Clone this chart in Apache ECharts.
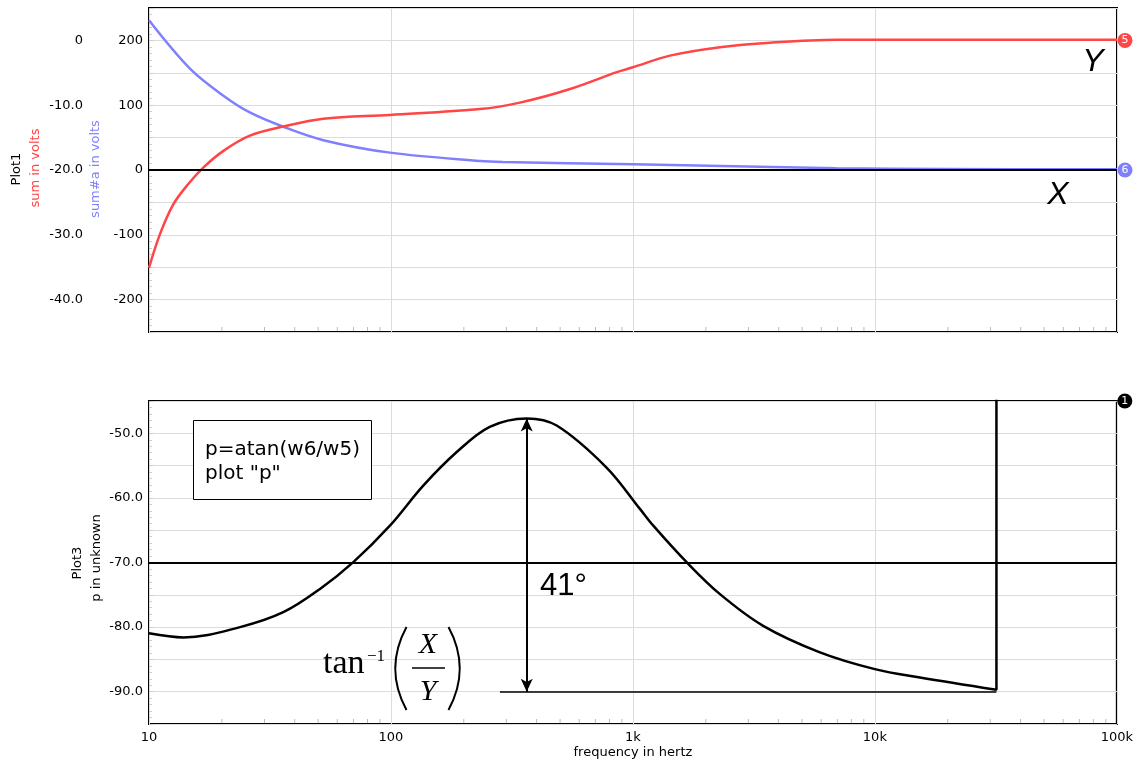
<!DOCTYPE html>
<html>
<head>
<meta charset="utf-8">
<script src="https://cdn.jsdelivr.net/npm/echarts@6/dist/echarts.min.js"></script>
<style>
html,body{margin:0;padding:0;background:#fff;}
#chart{width:1136px;height:763px;}
</style>
</head>
<body>
<div id="chart"></div>
<script>
// ---- data ----
const sumFreq = [10, 11.1, 12.6, 14.5, 16.8, 20.3, 26.1, 35.9, 52.5, 99, 233, 341, 550, 857, 1000, 1422, 2290, 3684, 6950, 20000, 100000];
const sumVolts = [-35.1, -29.9, -25.3, -22.2, -19.6, -17.05, -14.7, -13.3, -12.1, -11.5, -10.6, -9.6, -7.5, -4.9, -4.15, -2.35, -1.05, -0.35, 0.1, 0.1, 0.1];

const sumAFreq = [10, 14.8, 20.3, 26.1, 35.9, 52.5, 99, 233, 290, 1000, 3350, 6950, 20000, 100000];
const sumAVolts = [231, 156, 114.7, 88.8, 66.7, 46, 26.8, 14, 12.4, 8.8, 5.1, 2.6, 1.5, 1];

const pFreq = [10, 13.9, 23.8, 35.9, 50.9, 69.9, 99, 136, 187, 256, 364, 484, 778, 1069, 1214, 1667, 2290, 3454, 5929, 10000, 15350, 31800, 31800, 31800, 100000];
const pValue = [-80.96, -81.6, -80.0, -77.7, -74.1, -69.95, -64.3, -58.1, -52.9, -49.0, -47.7, -48.8, -55.3, -61.7, -64.3, -69.95, -74.9, -79.8, -83.9, -86.5, -87.8, -89.7, -89.7, 90, 90];

const xTickValues = [10, 100, 1000, 10000, 100000];
const xTickLabels = ['10', '100', '1k', '10k', '100k'];
const minorTickFreqs = [20,30,40,50,60,70,80,90,200,300,400,500,600,700,800,900,2000,3000,4000,5000,6000,7000,8000,9000,20000,30000,40000,50000,60000,70000,80000,90000];

const arrowFreq = 364, arrowTop = -47.7, arrowBottom = -90;
const baseLineFrom = 282, baseLineTo = 31800, baseLineValue = -90;

const RED = '#ff4545', BLUE = '#8080ff', GRIDC = '#dcdcdc';
const SANS = '"DejaVu Sans", sans-serif';

function toPairs(xs, ys){ return xs.map((x,i)=>[x, ys[i]]); }

const chart = echarts.init(document.getElementById('chart'), null, {renderer:'canvas'});

function minorTickSeries(xi, yi, yBottom){
  return {
    type:'custom', xAxisIndex:xi, yAxisIndex:yi, silent:true, clip:false, z:3,
    data: minorTickFreqs.map(f=>[f]),
    renderItem:function(params, api){
      const p = api.coord([api.value(0), yBottom]);
      return {type:'line', shape:{x1:p[0], y1:p[1]-1, x2:p[0], y2:p[1]-5}, style:{stroke:'#bbbbbb', lineWidth:1}};
    }
  };
}

const option = {
  animation:false,
  backgroundColor:'#fff',
  grid:[
    {left:149, right:19, top:8, height:324, show:true, borderColor:'#000', borderWidth:2, backgroundColor:'transparent'},
    {left:149, right:19, top:401, height:323, show:true, borderColor:'#000', borderWidth:2, backgroundColor:'transparent'}
  ],
  xAxis:[
    {type:'log', logBase:10, min:10, max:100000, gridIndex:0,
     axisLine:{show:false}, axisTick:{show:false}, axisLabel:{show:false},
     splitLine:{show:true, lineStyle:{color:GRIDC, width:1}}},
    {type:'log', logBase:10, min:10, max:100000, gridIndex:1,
     axisLine:{show:false}, axisTick:{show:false},
     axisLabel:{show:true, margin:7, color:'#000', fontFamily:SANS, fontSize:13,
       formatter:function(v){ const i = xTickValues.findIndex(t=>Math.abs(t-v)/t<1e-6); return i>=0 ? xTickLabels[i] : ''; }},
     splitLine:{show:true, lineStyle:{color:GRIDC, width:1}},
     name:'frequency in hertz', nameLocation:'middle', nameGap:22,
     nameTextStyle:{color:'#000', fontFamily:SANS, fontSize:13}}
  ],
  yAxis:[
    {type:'value', gridIndex:0, min:-250, max:250, interval:50, position:'left',
     axisLine:{show:false},
     axisTick:{show:true, inside:true, length:4, lineStyle:{color:'#cccccc'}},
     minorTick:{show:true, splitNumber:5, length:3, lineStyle:{color:'#cccccc'}},
     axisLabel:{margin:6, color:'#000', fontFamily:SANS, fontSize:13,
       formatter:function(v){ return (Math.round(v)%100===0) ? String(Math.round(v)) : ''; }},
     splitLine:{show:true, lineStyle:{color:GRIDC}}},
    {type:'value', gridIndex:0, min:-45, max:5, interval:5, position:'left', offset:60,
     axisLine:{show:false}, axisTick:{show:false},
     axisLabel:{margin:6, color:'#000', fontFamily:SANS, fontSize:13,
       formatter:function(v){ const r=Math.round(v); if(r%10!==0) return ''; return r===0 ? '0' : r.toFixed(1); }},
     splitLine:{show:false}},
    {type:'value', gridIndex:1, min:-95, max:-45, interval:5, position:'left',
     axisLine:{show:false},
     axisTick:{show:true, inside:true, length:4, lineStyle:{color:'#cccccc'}},
     minorTick:{show:true, splitNumber:5, length:3, lineStyle:{color:'#cccccc'}},
     axisLabel:{margin:6, color:'#000', fontFamily:SANS, fontSize:13,
       formatter:function(v){ const r=Math.round(v); return (r%10===0) ? r.toFixed(1) : ''; }},
     splitLine:{show:true, lineStyle:{color:GRIDC}}}
  ],
  series:[
    minorTickSeries(0, 0, -250),
    minorTickSeries(1, 2, -95),
    {name:'sum#a', type:'line', xAxisIndex:0, yAxisIndex:0, data:toPairs(sumAFreq, sumAVolts),
     smooth:0.35, showSymbol:false, symbol:'none', z:4,
     lineStyle:{color:BLUE, width:2.5},
     markLine:{silent:true, symbol:'none', label:{show:false}, z:5,
       lineStyle:{color:'#000', width:2, type:'solid'}, data:[{yAxis:0}]},
     markPoint:{silent:true, symbol:'circle', symbolSize:15, symbolOffset:[8,0], itemStyle:{color:BLUE},
       label:{show:true, color:'#fff', fontFamily:SANS, fontSize:11, formatter:'6'},
       data:[{coord:[sumAFreq[sumAFreq.length-1], 0]}]}},
    {name:'sum', type:'line', xAxisIndex:0, yAxisIndex:1, data:toPairs(sumFreq, sumVolts),
     smooth:0.35, showSymbol:false, symbol:'none', z:4,
     lineStyle:{color:RED, width:2.5},
     markPoint:{silent:true, symbol:'circle', symbolSize:15, symbolOffset:[8,0], itemStyle:{color:RED},
       label:{show:true, color:'#fff', fontFamily:SANS, fontSize:11, formatter:'5'},
       data:[{coord:[sumFreq[sumFreq.length-1], 0]}]}},
    {name:'p', type:'line', xAxisIndex:1, yAxisIndex:2, data:toPairs(pFreq, pValue),
     smooth:0.35, showSymbol:false, symbol:'none', z:4,
     lineStyle:{color:'#000', width:2.5},
     markLine:{silent:true, symbol:'none', label:{show:false}, z:5,
       lineStyle:{color:'#000', width:2, type:'solid'},
       data:[
         {yAxis:-70},
         [{coord:[baseLineFrom, baseLineValue], lineStyle:{width:1.5}}, {coord:[baseLineTo, baseLineValue]}],
         [{coord:[arrowFreq, arrowTop], symbol:'arrow', symbolSize:[9,13]}, {coord:[arrowFreq, arrowBottom], symbol:'arrow', symbolSize:[9,13]}]
       ]},
     markPoint:{silent:true, symbol:'circle', symbolSize:15, symbolOffset:[8,0], itemStyle:{color:'#000'},
       label:{show:true, color:'#fff', fontFamily:SANS, fontSize:11, formatter:'1'},
       data:[{coord:[100000, -45]}]}}
  ],
  graphic:[
    // axis titles
    {type:'text', x:17, y:169, rotation:Math.PI/2, style:{text:'Plot1', fill:'#000', font:'13px '+SANS, align:'center', verticalAlign:'middle'}},
    {type:'text', x:36, y:168, rotation:Math.PI/2, style:{text:'sum in volts', fill:RED, font:'13px '+SANS, align:'center', verticalAlign:'middle'}},
    {type:'text', x:96, y:169, rotation:Math.PI/2, style:{text:'sum#a in volts', fill:BLUE, font:'13px '+SANS, align:'center', verticalAlign:'middle'}},
    {type:'text', x:78, y:563, rotation:Math.PI/2, style:{text:'Plot3', fill:'#000', font:'13px '+SANS, align:'center', verticalAlign:'middle'}},
    {type:'text', x:97, y:558, rotation:Math.PI/2, style:{text:'p in unknown', fill:'#000', font:'13px '+SANS, align:'center', verticalAlign:'middle'}},
    // Y / X labels
    {type:'text', x:1093, y:62, z:10, style:{text:'Y', fill:'#000', font:'italic 32px Arial, "Liberation Sans"', align:'center', verticalAlign:'middle'}},
    {type:'text', x:1058, y:195, z:10, style:{text:'X', fill:'#000', font:'italic 32px Arial, "Liberation Sans"', align:'center', verticalAlign:'middle'}},
    // formula box
    {type:'rect', z:10, shape:{x:193.5, y:420.5, width:178, height:79}, style:{fill:'#fff', stroke:'#000', lineWidth:1}},
    {type:'text', z:11, x:205, y:438, style:{text:'p=atan(w6/w5)\nplot "p"', fill:'#000', font:'20px '+SANS, lineHeight:24, align:'left', verticalAlign:'top'}},
    // 41°
    {type:'text', z:10, x:540, y:586, style:{text:'41°', fill:'#000', font:'31px Arial, "Liberation Sans"', align:'left', verticalAlign:'middle'}},
    // tan^-1 (X/Y)
    {type:'text', z:10, x:323, y:664, style:{text:'tan', fill:'#000', font:'34px "Liberation Serif", "Times New Roman", serif', align:'left', verticalAlign:'middle'}},
    {type:'text', z:10, x:367, y:657, style:{text:'\u22121', fill:'#000', font:'17px "Liberation Serif", "Times New Roman", serif', align:'left', verticalAlign:'middle'}},
    {type:'bezierCurve', z:10, shape:{x1:406.5, y1:627, x2:406.5, y2:710, cpx1:384, cpy1:668.5}, style:{stroke:'#000', lineWidth:2, fill:null}},
    {type:'bezierCurve', z:10, shape:{x1:448.5, y1:627, x2:448.5, y2:710, cpx1:471, cpy1:668.5}, style:{stroke:'#000', lineWidth:2, fill:null}},
    {type:'text', z:10, x:428, y:645, style:{text:'X', fill:'#000', font:'italic 30px "Liberation Serif", "Times New Roman", serif', align:'center', verticalAlign:'middle'}},
    {type:'line', z:10, shape:{x1:412, y1:668, x2:445, y2:668}, style:{stroke:'#000', lineWidth:1.5}},
    {type:'text', z:10, x:428, y:692, style:{text:'Y', fill:'#000', font:'italic 30px "Liberation Serif", "Times New Roman", serif', align:'center', verticalAlign:'middle'}}
  ]
};
chart.setOption(option);
</script>
</body>
</html>
